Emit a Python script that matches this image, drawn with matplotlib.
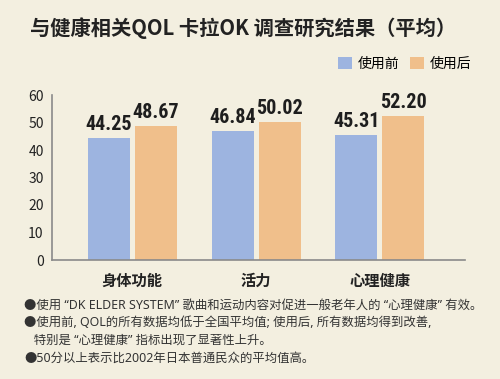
import numpy as np
import matplotlib.pyplot as plt
from matplotlib import font_manager

plt.rcParams['font.family'] = ['Noto Sans CJK SC', 'DejaVu Sans']

categories = ["身体功能", "活力", "心理健康"]
before = [44.25, 46.84, 45.31]
after = [48.67, 50.02, 52.20]
series_names = ["使用前", "使用后"]
yticks = [0, 10, 20, 30, 40, 50, 60]
notes = [
    "●使用 “DK ELDER SYSTEM” 歌曲和运动内容对促进一般老年人的 “心理健康” 有效。",
    "●使用前, QOL的所有数据均低于全国平均值; 使用后, 所有数据均得到改善,",
    "   特别是 “心理健康” 指标出现了显著性上升。",
    "●50分以上表示比2002年日本普通民众的平均值高。",
]

bg = "#F3EFE0"
blue = "#9DB4E0"
orange = "#F0BF8B"
axcol = "#8A8A8A"

# narrow bold face for the value labels
names = {f.name for f in font_manager.fontManager.ttflist}
num_font = 'DejaVu Sans'
for cand in ['Roboto Condensed', 'Oswald', 'Barlow Condensed', 'Archivo Narrow']:
    if cand in names:
        num_font = cand
        break

fig = plt.figure(figsize=(5, 3.79), dpi=100, facecolor=bg)
ax = fig.add_axes([52/500, 1-260/379, 413/500, 165/379])
ax.set_facecolor(bg)

x = np.arange(len(categories))
w = 0.34
off = 0.19
b1 = ax.bar(x - off, before, w, color=blue, label=series_names[0])
b2 = ax.bar(x + off, after, w, color=orange, label=series_names[1])

for bars, vals in ((b1, before), (b2, after)):
    for r, v in zip(bars, vals):
        ax.text(r.get_x() + r.get_width()/2, v + 1.6, f"{v:.2f}",
                ha='center', va='bottom', fontsize=14.5, fontweight='bold',
                family=num_font, color="#1E1E1E")

ax.set_xlim(-0.65, 2.69)
ax.set_ylim(0, 60)
ax.set_yticks(yticks)
ax.set_xticks(x)
ax.set_xticklabels(categories, fontsize=11, fontweight='bold', color="#222222")
ax.tick_params(axis='y', labelsize=10, length=0, pad=6, colors="#222222")
ax.tick_params(axis='x', length=0, pad=9)
for s in ('top', 'right'):
    ax.spines[s].set_visible(False)
for s in ('left', 'bottom'):
    ax.spines[s].set_color(axcol)
    ax.spines[s].set_linewidth(1.2)

fig.text(30/500, 1-28/379, "与健康相关QOL 卡拉OK 调查研究结果（平均）",
         fontsize=14.6, fontweight='bold', va='center', ha='left', color="#222222")

leg = fig.legend(handles=[b1, b2], loc='center right',
                 bbox_to_anchor=(484/500, 1-64/379), ncol=2, frameon=False,
                 fontsize=10, handlelength=1.0, handleheight=1.0,
                 handletextpad=0.4, columnspacing=0.8)

ys = [305, 323, 340, 358]
for t, yy in zip(notes, ys):
    fig.text(24/500, 1-yy/379, t, fontsize=8.9, va='center', ha='left',
             color="#333333", family=['Noto Sans', 'Noto Sans CJK SC'])

fig.savefig("out.png", dpi=100, facecolor=bg)
